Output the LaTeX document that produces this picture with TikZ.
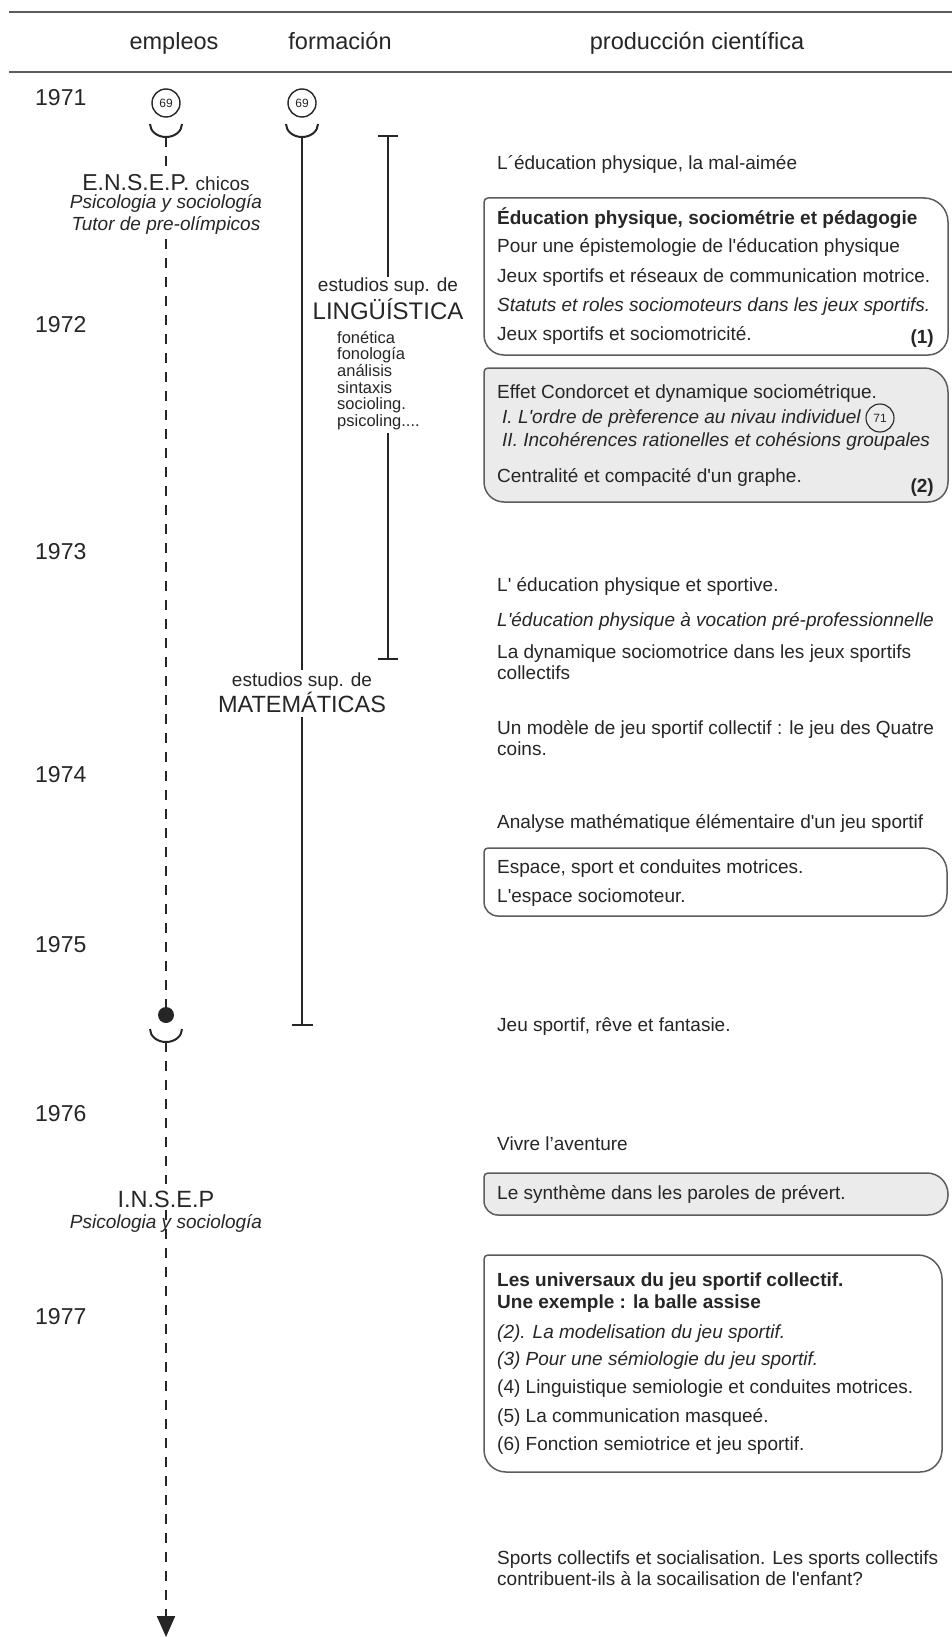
\documentclass[tikz,border=0pt]{standalone}
\usepackage{fontspec}
\setmainfont{Liberation Sans}
\usetikzlibrary{arrows.meta}
\definecolor{ink}{HTML}{262626}
\definecolor{rulegray}{HTML}{5C5C5C}
\definecolor{boxfill}{HTML}{EBEBEB}
\newcommand{\fs}[1]{\fontsize{#1}{#1}\selectfont}
\newcommand{\ap}{\textquotesingle}
% box with individual corner radii: x0 y0 x1 y1 tl tr br bl style
\newcommand{\corbox}[9]{%
 \draw[boxline,#9] ({#1+#5},#2) -- ({#3-#6},#2)
  .. controls ({#3-0.448*#6},#2) and (#3,{#2+0.448*#6}) .. (#3,{#2+#6})
  -- (#3,{#4-#7})
  .. controls (#3,{#4-0.448*#7}) and ({#3-0.448*#7},#4) .. ({#3-#7},#4)
  -- ({#1+#8},#4)
  .. controls ({#1+0.448*#8},#4) and (#1,{#4-0.448*#8}) .. (#1,{#4-#8})
  -- (#1,{#2+#5})
  .. controls (#1,{#2+0.448*#5}) and ({#1+0.448*#5},#2) .. ({#1+#5},#2) -- cycle;}
\begin{document}
\begin{tikzpicture}[x=1pt,y=-1pt,
  every node/.style={inner sep=0pt, text=ink},
  year/.style={anchor=base west, font=\fs{23}},
  head/.style={anchor=base, font=\fs{23.5}},
  txt/.style={anchor=base west, font=\fs{19}},
  txti/.style={anchor=base west, font=\fs{19}\itshape},
  txtb/.style={anchor=base west, font=\fs{19}\bfseries},
  boxline/.style={draw=rulegray, line width=1.5pt},
  rulel/.style={draw=rulegray, line width=1.5pt},
  solidln/.style={draw=ink, line width=2pt},
  dashln/.style={draw=ink, line width=2.2pt, dash pattern=on 10pt off 9pt},
  badge/.style={circle, draw=ink, line width=1.4pt, minimum size=28pt, font=\fs{12}},
  cupln/.style={draw=ink, line width=2pt},
]
\useasboundingbox (0,0) rectangle (952,1637);
\fill[white] (0,0) rectangle (952,1637);

% header
\draw[rulel] (9,12) -- (952,12);
\draw[rulel] (9,72) -- (952,72);
\node[head] (hemp) at (174,50) {empleos};
\node[head] (hform) at (340,50) {formación};
\node[head] (hprod) at (697,50) {producción científica};

% years
\node[year] (y71) at (35,106) {1971};
\node[year] (y72) at (35,332) {1972};
\node[year] (y73) at (35,559) {1973};
\node[year] (y74) at (35,782) {1974};
\node[year] (y75) at (35,952) {1975};
\node[year] (y76) at (35,1121) {1976};
\node[year] (y77) at (35,1324) {1977};

% ---- empleos
\node[badge] (e69) at (166,103) {69};
\draw[cupln] (150,124) .. controls (150,131.2) and (157.2,137) .. (166,137)
             .. controls (174.8,137) and (182,131.2) .. (182,124);
\coordinate (ecup) at (166,137);
\node[anchor=base, font=\fs{23}] (ensepA) at (166,191) {E.N.S.E.P. {\fs{19}chicos}};
\node[anchor=base, font=\fs{19}\itshape] (ensepB) at (166,209) {Psicologia y sociología};
\node[anchor=base, font=\fs{19}\itshape] (ensepC) at (166,231) {Tutor de pre-olímpicos};
\draw[dashln, shorten >=6pt] (ecup) -- (ensepA.north);
\node[circle, fill=ink, minimum size=16pt] (edot) at (166,1015) {};
\draw[dashln, shorten <=4pt] (ensepC.south) -- (edot.north);
\draw[cupln] (150,1029) .. controls (150,1036.2) and (157.2,1042) .. (166,1042)
             .. controls (174.8,1042) and (182,1036.2) .. (182,1029);
\coordinate (ecup2) at (166,1042);
\node[anchor=base, font=\fs{23.5}] (insepA) at (166,1207) {I.N.S.E.P};
\node[anchor=base, font=\fs{19}\itshape] (insepB) at (166,1228) {Psicologia y sociología};
\draw[dashln, shorten >=6pt] (ecup2) -- (insepA.north);
\coordinate (eend) at (166,1637);
\draw[dashln, -{Triangle[width=18pt,length=21pt]}, shorten <=3pt] (insepA.south) -- (eend);

% ---- formación
\node[badge] (f69) at (302,103) {69};
\draw[cupln] (286,124) .. controls (286,131.2) and (293.2,137) .. (302,137)
             .. controls (310.8,137) and (318,131.2) .. (318,124);
\coordinate (fcup) at (302,137);
\node[anchor=base, font=\fs{19}] (mat1) at (302,686) {estudios sup. de};
\node[anchor=base, font=\fs{23.5}] (mat2) at (302,712) {MATEMÁTICAS};
\coordinate (fend) at (302,1025);
\draw[solidln, shorten >=2pt] (fcup) -- (mat1.north);
\draw[solidln, shorten <=5pt] (mat2.south) -- (fend);
\draw[solidln] ([xshift=-10.5pt]fend) -- ([xshift=10.5pt]fend);

% ---- lingüística
\coordinate (ltop) at (388,136);
\coordinate (lend) at (388,659);
\node[anchor=base, font=\fs{19}] (ling1) at (388,291) {estudios sup. de};
\node[anchor=base, font=\fs{24}] (ling2) at (388,319) {LINGÜÍSTICA};
\node[anchor=north west, align=left, font=\fontsize{16.5}{16.6}\selectfont] (llist) at (337,331)
  {fonética\\fonología\\análisis\\sintaxis\\socioling.\\psicoling....};
\draw[solidln] ([xshift=-10pt]ltop) -- ([xshift=10pt]ltop);
\draw[solidln] (ltop) -- (ling1.north);
\draw[solidln, shorten <=3pt] (llist.south -| ltop) -- (lend);
\draw[solidln] ([xshift=-10pt]lend) -- ([xshift=10pt]lend);

% ---- producción científica
\node[txt] (p1) at (497,170) {L´éducation physique, la mal-aimée};

\corbox{484}{198}{948}{355}{4}{24}{20}{20}{fill=white}
\node[txtb] (b1a) at (497,225) {Éducation physique, sociométrie et pédagogie};
\node[txt] (b1b) at (497,253) {Pour une épistemologie de l\ap éducation physique};
\node[txt] (b1c) at (497,282) {Jeux sportifs et réseaux de communication motrice.};
\node[txti] (b1d) at (497,311) {Statuts et roles sociomoteurs dans les jeux sportifs.};
\node[txt] (b1e) at (497,340) {Jeux sportifs et sociomotricité.};
\node[anchor=base east, font=\fs{19}\bfseries] (b1n) at (934,343) {(1)};

\corbox{484}{368}{948}{502}{4}{24}{20}{20}{fill=boxfill}
\node[txt] (b2a) at (497,398) {Effet Condorcet et dynamique sociométrique.};
\node[txti] (b2b) at (502,423) {I. L\ap ordre de prèference au nivau individuel};
\node[badge, line width=1.1pt] (b2c) at (880,418) {71};
\node[txti] (b2d) at (502,446) {II. Incohérences rationelles et cohésions groupales};
\node[txt] (b2e) at (497,482) {Centralité et compacité d\ap un graphe.};
\node[anchor=base east, font=\fs{19}\bfseries] (b2n) at (934,492) {(2)};

\node[txt] (p2) at (497,591) {L\ap\ éducation physique et sportive.};
\node[txti] (p3) at (497,626) {L\ap éducation physique à vocation pré-professionnelle};
\node[txt] (p4) at (497,658) {La dynamique sociomotrice dans les jeux sportifs};
\node[txt] (p4b) at (497,679) {collectifs};
\node[txt] (p5) at (497,734) {Un modèle de jeu sportif collectif : le jeu des Quatre};
\node[txt] (p5b) at (497,755) {coins.};
\node[txt] (p6) at (497,828) {Analyse mathématique élémentaire d\ap un jeu sportif};

\corbox{484}{848}{947}{916}{4}{24}{22}{14}{fill=white}
\node[txt] (b3a) at (497,873) {Espace, sport et conduites motrices.};
\node[txt] (b3b) at (497,902) {L\ap espace sociomoteur.};

\node[txt] (p7) at (497,1031) {Jeu sportif, rêve et fantasie.};
\node[txt] (p8) at (497,1150) {Vivre l’aventure};

\corbox{484}{1173}{948}{1215}{4}{21}{20}{14}{fill=boxfill}
\node[txt] (b4a) at (497,1199) {Le synthème dans les paroles de prévert.};

\corbox{484}{1255}{942}{1472}{4}{24}{22}{22}{fill=white}
\node[txtb] (b5a) at (497,1286) {Les universaux du jeu sportif collectif.};
\node[txtb] (b5b) at (497,1308) {Une exemple : la balle assise};
\node[txti] (b5c) at (497,1338) {(2). La modelisation du jeu sportif.};
\node[txti] (b5d) at (497,1365) {(3) Pour une sémiologie du jeu sportif.};
\node[txt] (b5e) at (497,1393) {(4) Linguistique semiologie et conduites motrices.};
\node[txt] (b5f) at (497,1422) {(5) La communication masqueé.};
\node[txt] (b5g) at (497,1450) {(6) Fonction semiotrice et jeu sportif.};

\node[txt] (p9) at (497,1564) {Sports collectifs et socialisation. Les sports collectifs};
\node[txt] (p9b) at (497,1585) {contribuent-ils à la socailisation de l\ap enfant?};
\end{tikzpicture}
\end{document}
